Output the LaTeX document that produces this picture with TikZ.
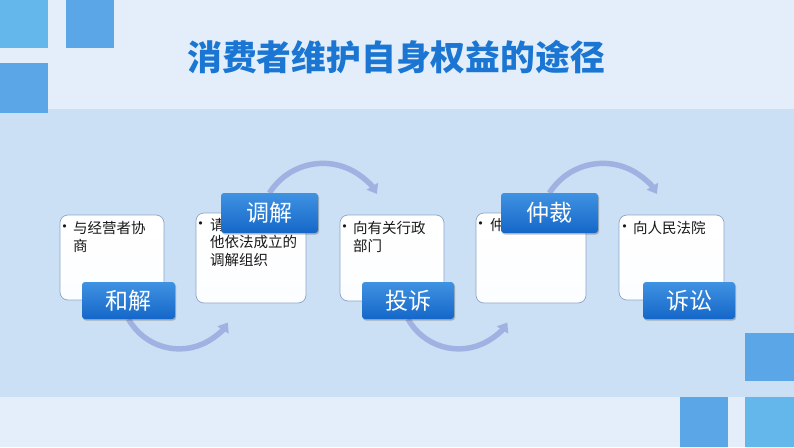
\documentclass[tikz,border=0pt]{standalone}
\usepackage{fontspec}
\newfontfamily\cjk{Noto Sans CJK SC}
\newfontfamily\dvs{DejaVu Sans}
\usetikzlibrary{arrows.meta,shadows}
\definecolor{bgtop}{RGB}{227,238,250}
\definecolor{band}{RGB}{203,224,244}
\definecolor{sqa}{RGB}{99,183,234}
\definecolor{sqb}{RGB}{91,166,231}
\definecolor{titleblue}{RGB}{26,118,210}
\definecolor{lbltop}{RGB}{64,146,226}
\definecolor{lblbot}{RGB}{20,103,200}
\definecolor{boxedge}{RGB}{140,165,200}
\definecolor{arcc}{RGB}{160,178,225}
\tikzset{
  infobox/.style={draw=boxedge, line width=0.7pt, rounded corners=8pt, top color=white, bottom color=white!94!band, inner sep=0pt},
  label/.style={rounded corners=3pt, top color=lbltop, bottom color=lblbot, text=white, inner sep=0pt,
    font=\cjk\fontsize{23}{26}\selectfont, drop shadow={shadow xshift=1pt, shadow yshift=-1.5pt, opacity=0.35, fill=black!70}},
  boxtext/.style={anchor=north west, align=left, inner sep=0pt, text=black!90, font=\cjk\fontsize{14.5}{18}\selectfont},
  bullet/.style={inner sep=0pt, text=black!90, font=\dvs\fontsize{11}{12}\selectfont},
  arcarrow/.style={draw=arcc, line width=5.5pt, -{Triangle[width=13pt,length=9pt]}}
}
\begin{document}
\begin{tikzpicture}[x=1pt,y=-1pt]
\useasboundingbox (0,0) rectangle (794,447);
% background
\fill[bgtop] (0,0) rectangle (794,447);
\fill[band] (0,109) rectangle (794,397);
% squares
\fill[sqa] (0,0) rectangle (48,48);
\fill[sqb] (66,0) rectangle (114,48);
\fill[sqb] (0,63) rectangle (48,113);
\fill[sqb] (745,333) rectangle (794,381);
\fill[sqb] (680,397) rectangle (728,447);
\fill[sqa] (745,397) rectangle (794,447);
% title
\node[text=titleblue, font=\cjk\bfseries\fontsize{34.8}{38}\selectfont, inner sep=0pt] (title) at (396,57) {消费者维护自身权益的途径};
% info boxes
\node[infobox, minimum width=104pt, minimum height=85pt] (b1) at (112,257.5) {};
\node[infobox, minimum width=110pt, minimum height=90pt] (b2) at (251,258) {};
\node[infobox, minimum width=104pt, minimum height=86pt] (b3) at (392,258) {};
\node[infobox, minimum width=110pt, minimum height=90pt] (b4) at (531,258) {};
\node[infobox, minimum width=105pt, minimum height=85pt] (b5) at (671.5,257.5) {};
% bullets and texts
\node[bullet] (d1) at (64.5,228) {•};
\node[boxtext] (t1) at (73,221) {与经营者协\\商};
\node[bullet] (d2) at (200.5,225) {•};
\node[boxtext, font=\cjk\fontsize{14.5}{17.5}\selectfont] (t2) at (210,218) {请\\他依法成立的\\调解组织};
\node[bullet] (d3) at (344.5,228) {•};
\node[boxtext] (t3) at (353,221) {向有关行政\\部门};
\node[bullet] (d4) at (480.5,225) {•};
\node[boxtext] (t4) at (490,218) {仲};
\node[bullet] (d5) at (624.5,228) {•};
\node[boxtext] (t5) at (633,221) {向人民法院};
% arc start points at the label boxes
\coordinate (l1s) at (128.5,319);
\coordinate (l2n) at (269.5,193);
\coordinate (l3s) at (408,319);
\coordinate (l4n) at (549.5,193);
% arcs
\draw[arcarrow] (l1s) arc[start angle=151, end angle=33, radius=58];
\draw[arcarrow] (l2n) arc[start angle=-148, end angle=-31, radius=63];
\draw[arcarrow] (l3s) arc[start angle=151, end angle=33, radius=58];
\draw[arcarrow] (l4n) arc[start angle=-148, end angle=-31, radius=63];
% labels
\node[label, minimum width=93pt, minimum height=37pt] (hejie) at (128.5,300.5) {和解};
\node[label, minimum width=97pt, minimum height=40pt] (tiaojie) at (269.5,213) {调解};
\node[label, minimum width=92pt, minimum height=37pt] (tousu) at (408,300.5) {投诉};
\node[label, minimum width=97pt, minimum height=40pt] (zhongcai) at (549.5,213) {仲裁};
\node[label, minimum width=92pt, minimum height=37pt] (susong) at (689,300.5) {诉讼};
\end{tikzpicture}
\end{document}
